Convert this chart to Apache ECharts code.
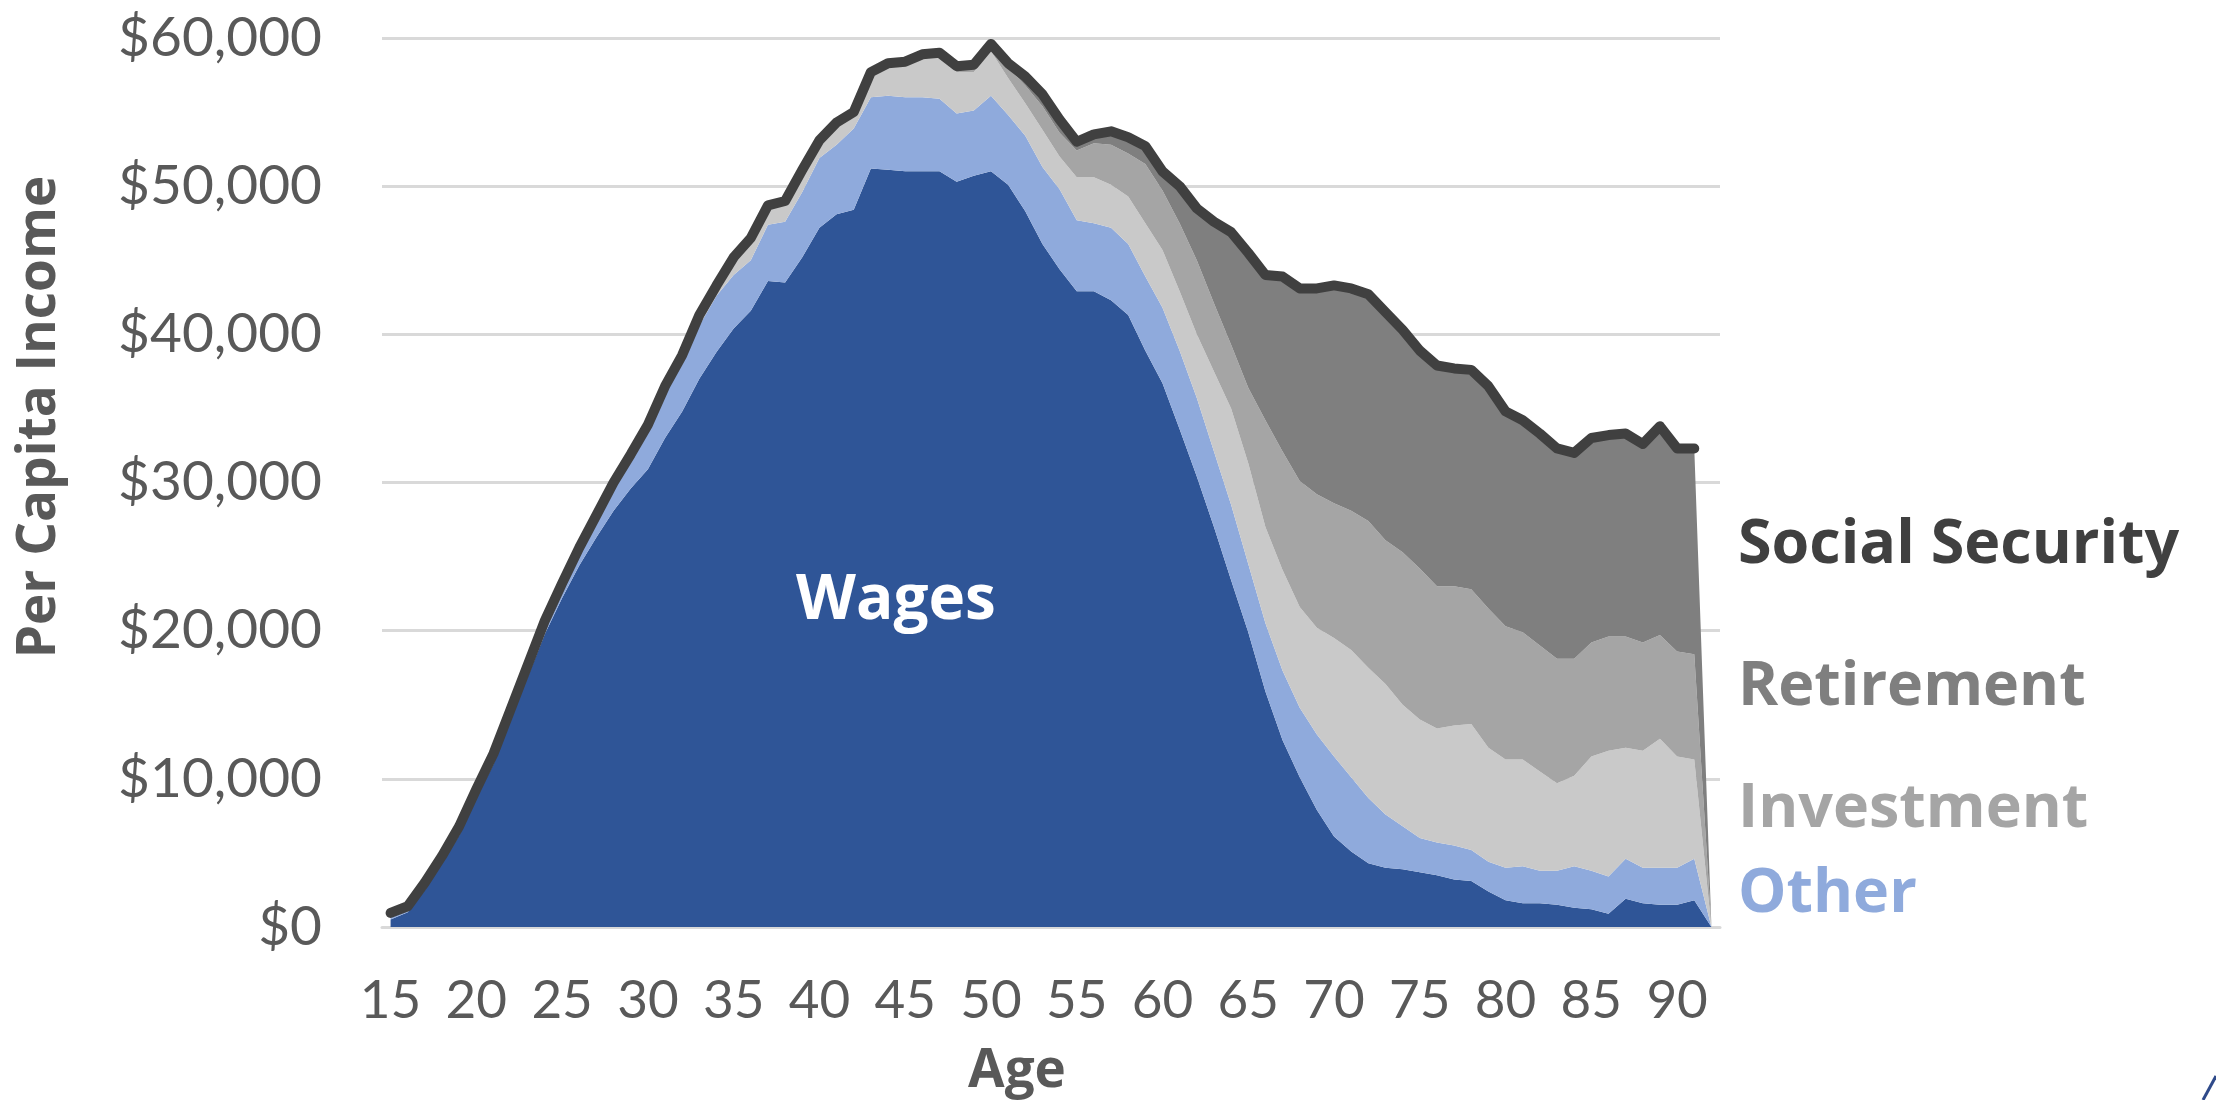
<!DOCTYPE html>
<html>
<head>
<meta charset="utf-8">
<script src="https://cdn.jsdelivr.net/npm/echarts@6/dist/echarts.min.js"></script>
<style>
    html, body { margin: 0; padding: 0; background: #fff; }
    #income-box { width: 2216px; height: 1100px; }
</style>
</head>
<body>
<div id="income-box"></div>
<script>
// per capita income by age, stacked by source (dollars)
var ages = [];
for (var a = 15; a <= 92; a++) ages.push(String(a));

var wages = [500, 1000, 2500, 4300, 6200, 8700, 11000, 14000, 16900, 19800,
    22200, 24400, 26300, 28100, 29600, 30900, 33000, 34800, 37000, 38800,
    40400, 41600, 43600, 43500, 45200, 47200, 48100, 48400, 51200, 51100,
    51000, 51000, 51000, 50300, 50700, 51000, 50100, 48300, 46100, 44400,
    42900, 42900, 42300, 41300, 38900, 36700, 33600, 30400, 27000, 23400,
    19900, 15900, 12600, 10100, 7900, 6100, 5100, 4300, 4000, 3900,
    3700, 3500, 3200, 3100, 2400, 1800, 1600, 1600, 1500, 1300,
    1200, 900, 1900, 1600, 1500, 1500, 1800, 0];

var other = [200, 200, 300, 300, 400, 400, 500, 500, 600, 700,
    800, 1000, 1300, 1600, 2000, 2600, 3000, 3200, 3600, 3800,
    3600, 3400, 3800, 4100, 4400, 4700, 4700, 5500, 4800, 5000,
    5000, 5000, 4900, 4600, 4400, 5100, 4700, 5100, 5200, 5400,
    4800, 4600, 4900, 4800, 5000, 5100, 5300, 5300, 5100, 5100,
    4600, 4600, 4700, 4700, 5100, 5400, 5000, 4400, 3600, 2900,
    2300, 2200, 2300, 2100, 2000, 2200, 2500, 2200, 2300, 2800,
    2600, 2500, 2700, 2400, 2500, 2500, 2800, 0];

var investment = [100, 100, 100, 100, 100, 100, 100, 100, 100, 100,
    100, 100, 100, 200, 200, 300, 400, 500, 600, 600,
    1000, 1300, 1100, 1200, 1300, 1000, 1300, 900, 1500, 2000,
    2200, 2600, 2800, 2800, 2600, 3000, 2500, 2200, 2500, 2200,
    2900, 3100, 2900, 3200, 3600, 3900, 4000, 4300, 5400, 6500,
    6800, 6500, 6800, 6800, 7200, 8000, 8600, 8800, 8800, 8200,
    8000, 7700, 8100, 8500, 7700, 7300, 7200, 6700, 5900, 6100,
    7700, 8500, 7500, 7900, 8700, 7500, 6700, 0];

var retirement = [0, 0, 0, 0, 0, 0, 0, 0, 0, 0,
    0, 0, 0, 0, 0, 0, 0, 0, 0, 0,
    0, 0, 0, 0, 0, 0, 0, 0, 0, 0,
    0, 100, 100, 200, 300, 300, 700, 1200, 1600, 1600,
    1800, 2300, 2700, 2900, 4000, 4000, 4600, 5000, 4600, 4300,
    5100, 7200, 8000, 8500, 9000, 9100, 9400, 9900, 9700, 10300,
    10200, 9600, 9400, 9100, 9400, 9000, 8600, 8500, 8400, 7900,
    7700, 7700, 7500, 7300, 7000, 7100, 7100, 0];

var socialSecurity = [100, 100, 100, 100, 100, 100, 100, 100, 100, 100,
    100, 100, 100, 100, 100, 100, 100, 100, 100, 100,
    200, 200, 200, 200, 200, 200, 200, 200, 200, 200,
    200, 200, 200, 200, 200, 200, 300, 600, 800, 900,
    600, 600, 900, 1100, 1200, 1300, 2500, 3500, 5500, 7600,
    9100, 9800, 11800, 13000, 13900, 14700, 15000, 15300, 15400, 15000,
    14700, 14900, 14700, 14800, 15000, 14500, 14300, 14300, 14200, 13900,
    13800, 13600, 13700, 13400, 14100, 13700, 13900, 0];

var total = [950, 1400, 3000, 4800, 6800, 9300, 11700, 14700, 17700, 20700,
    23200, 25600, 27800, 30000, 31900, 33900, 36500, 38600, 41300, 43300,
    45200, 46500, 48700, 49000, 51100, 53100, 54300, 55000, 57700, 58300,
    58400, 58900, 59000, 58100, 58200, 59600, 58300, 57400, 56200, 54500,
    53000, 53500, 53700, 53300, 52700, 51000, 50000, 48500, 47600, 46900,
    45500, 44000, 43900, 43100, 43100, 43300, 43100, 42700, 41500, 40300,
    38900, 37900, 37700, 37600, 36500, 34800, 34200, 33300, 32300, 32000,
    33000, 33200, 33300, 32600, 33800, 32300, 32300, null];

var layerNames = ['Wages', 'Other', 'Investment', 'Retirement', 'Social Security'];
var layerData = [wages, other, investment, retirement, socialSecurity];
var layerColors = ['#2F5597', '#8FAADC', '#C9C9C9', '#A5A5A5', '#7F7F7F'];

var FONT = 'Lato, "Open Sans", sans-serif';
var BOLD_FONT = '"Open Sans", Lato, sans-serif';

var myChart = echarts.init(document.getElementById('income-box'));

var series = [];
for (var i = 0; i < layerNames.length; i++) {
    series.push({
        name: layerNames[i],
        type: 'line',
        stack: 'income',
        data: layerData[i],
        symbol: 'none',
        lineStyle: { width: 0 },
        areaStyle: { color: layerColors[i], opacity: 1 },
        itemStyle: { color: layerColors[i] },
        z: 2
    });
}
series.push({
    name: 'Total',
    type: 'line',
    data: total,
    symbol: 'none',
    lineStyle: { color: '#404040', width: 10, cap: 'round', join: 'round' },
    z: 5
});

// bold annotation text, anchored by its left (or centre) and vertical middle
function labelText(text, x, y, color, size, align, rotation) {
    return {
        type: 'text',
        x: x,
        y: y,
        rotation: rotation || 0,
        style: {
            text: text,
            x: 0,
            y: 0,
            fill: color,
            fontFamily: BOLD_FONT,
            fontWeight: 'bold',
            fontSize: size,
            align: align || 'left',
            verticalAlign: 'middle'
        },
        z: 10
    };
}

var option = {
    animation: false,
    backgroundColor: '#ffffff',
    grid: { left: 382, right: 496, top: 38, bottom: 173 },
    xAxis: {
        type: 'category',
        data: ages,
        boundaryGap: true,
        axisLine: { show: true, lineStyle: { color: '#D9D9D9', width: 3 } },
        axisTick: { show: false },
        axisLabel: {
            interval: 4,
            color: '#595959',
            fontFamily: FONT,
            fontSize: 53,
            margin: 47
        }
    },
    yAxis: {
        type: 'value',
        min: 0,
        max: 60000,
        interval: 10000,
        axisLabel: {
            color: '#595959',
            fontFamily: FONT,
            fontSize: 55,
            margin: 60,
            formatter: function (v) { return '$' + v.toLocaleString('en-US'); }
        },
        splitLine: { lineStyle: { color: '#D9D9D9', width: 3 } }
    },
    series: series,
    graphic: [
        labelText('Per Capita Income', 40, 417, '#595959', 53, 'center', Math.PI / 2),
        labelText('Age', 1017, 1072, '#595959', 53, 'center'),
        labelText('Wages', 896, 601, '#ffffff', 62, 'center'),
        labelText('Social Security', 1738, 546, '#404040', 61),
        labelText('Retirement', 1738, 688, '#7F7F7F', 61),
        labelText('Investment', 1738, 810, '#A5A5A5', 61),
        labelText('Other', 1738, 895, '#8FAADC', 61),
        // stray stroke at the bottom-right corner of the original picture
        {
            type: 'line',
            shape: { x1: 2203, y1: 1100, x2: 2216, y2: 1076 },
            style: { stroke: '#2F4A8A', lineWidth: 3 }
        }
    ]
};
myChart.setOption(option);
</script>
</body>
</html>
